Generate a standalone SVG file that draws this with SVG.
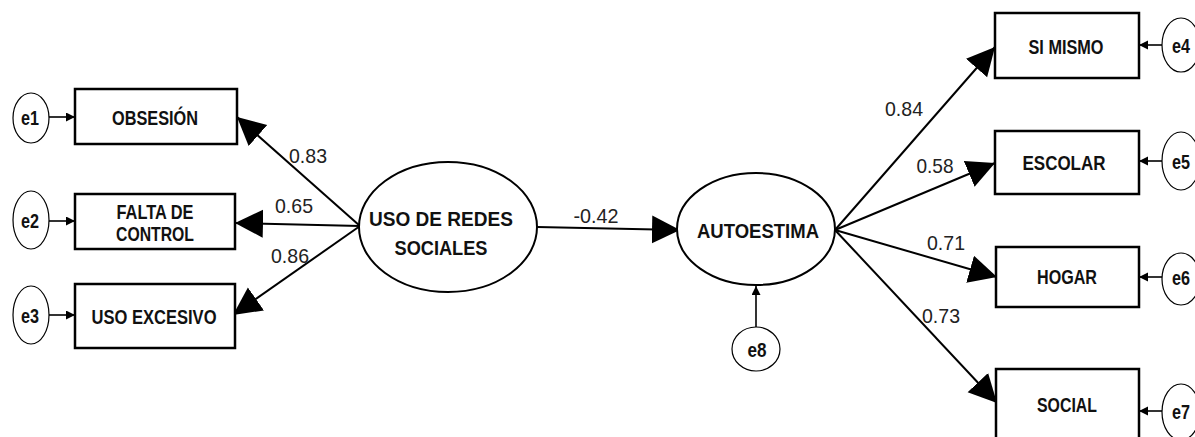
<svg xmlns="http://www.w3.org/2000/svg" width="1195" height="437" viewBox="0 0 1195 437">
<defs>
<style>
.box{fill:#fff;stroke:#000;stroke-width:2.5}
.lat{fill:#fff;stroke:#000;stroke-width:2}
.err{fill:#fff;stroke:#000;stroke-width:1.2}
.lbl{font-family:"Liberation Sans",Arial,sans-serif;font-weight:bold;font-size:21px;text-anchor:middle;fill:#111}
.num{font-family:"Liberation Sans",Arial,sans-serif;font-size:21px;text-anchor:middle;fill:#222}
.path{stroke:#000;stroke-width:2;fill:none;marker-end:url(#big)}
.epath{stroke:#000;stroke-width:1.6;fill:none;marker-end:url(#small)}
</style>
<marker id="big" markerUnits="userSpaceOnUse" markerWidth="30" markerHeight="30" refX="28" refY="14" orient="auto">
<path d="M0,0 L28,14 L0,28 z" fill="#000"/>
</marker>
<marker id="small" markerUnits="userSpaceOnUse" markerWidth="10" markerHeight="10" refX="9" refY="4.5" orient="auto">
<path d="M0,0 L9,4.5 L0,9 z" fill="#000"/>
</marker>
</defs>
<rect width="1195" height="437" fill="#fff"/>

<g id="connectors">
<line class="path" x1="360" y1="226" x2="237" y2="117"/>
<line class="path" x1="360" y1="226" x2="235" y2="223"/>
<line class="path" x1="360" y1="226" x2="233" y2="315"/>
<line class="path" x1="537" y1="227" x2="680" y2="230"/>
<line class="path" x1="835" y1="230" x2="995" y2="47"/>
<line class="path" x1="835" y1="230" x2="995" y2="163"/>
<line class="path" x1="835" y1="230" x2="997" y2="277"/>
<line class="path" x1="835" y1="230" x2="997" y2="403"/>
<line class="epath" x1="49" y1="117" x2="75" y2="117"/>
<line class="epath" x1="49" y1="221" x2="75" y2="221"/>
<line class="epath" x1="49" y1="315" x2="75" y2="315"/>
<line class="epath" x1="1162" y1="45" x2="1139" y2="45"/>
<line class="epath" x1="1162" y1="161" x2="1139" y2="161"/>
<line class="epath" x1="1162" y1="277" x2="1139" y2="277"/>
<line class="epath" x1="1162" y1="411" x2="1139" y2="411"/>
<line class="epath" x1="756" y1="327" x2="756" y2="286"/>
<text class="num" x="308" y="163" textLength="38" lengthAdjust="spacingAndGlyphs">0.83</text>
<text class="num" x="294" y="213" textLength="38" lengthAdjust="spacingAndGlyphs">0.65</text>
<text class="num" x="290" y="263" textLength="38" lengthAdjust="spacingAndGlyphs">0.86</text>
<text class="num" x="596" y="223" textLength="45" lengthAdjust="spacingAndGlyphs">-0.42</text>
<text class="num" x="904" y="116" textLength="38" lengthAdjust="spacingAndGlyphs">0.84</text>
<text class="num" x="935" y="173" textLength="37" lengthAdjust="spacingAndGlyphs">0.58</text>
<text class="num" x="946" y="250" textLength="38" lengthAdjust="spacingAndGlyphs">0.71</text>
<text class="num" x="941" y="323" textLength="38" lengthAdjust="spacingAndGlyphs">0.73</text>
</g>

<g id="usoredes">
<ellipse class="lat" cx="448" cy="227" rx="89" ry="65"/>
<text class="lbl" x="441" y="226" textLength="144" lengthAdjust="spacingAndGlyphs">USO DE REDES</text>
<text class="lbl" x="441" y="255" textLength="93" lengthAdjust="spacingAndGlyphs">SOCIALES</text>
</g>
<g id="autoestima">
<ellipse class="lat" cx="756" cy="229" rx="79" ry="56"/>
<text class="lbl" x="758" y="238" textLength="122" lengthAdjust="spacingAndGlyphs">AUTOESTIMA</text>
</g>

<g id="obsesion">
<rect class="box" x="75" y="89" width="162" height="55"/>
<text class="lbl" x="155" y="125" textLength="86" lengthAdjust="spacingAndGlyphs">OBSESIÓN</text>
</g>
<g id="faltacontrol">
<rect class="box" x="75" y="194" width="160" height="55"/>
<text class="lbl" x="155" y="219" textLength="77" lengthAdjust="spacingAndGlyphs">FALTA DE</text>
<text class="lbl" x="155" y="241" textLength="78" lengthAdjust="spacingAndGlyphs">CONTROL</text>
</g>
<g id="usoexcesivo">
<rect class="box" x="75" y="284" width="160" height="64"/>
<text class="lbl" x="154" y="324" textLength="125" lengthAdjust="spacingAndGlyphs">USO EXCESIVO</text>
</g>

<g id="simismo">
<rect class="box" x="995" y="13" width="144" height="65"/>
<text class="lbl" x="1066" y="54" textLength="75" lengthAdjust="spacingAndGlyphs">SI MISMO</text>
</g>
<g id="escolar">
<rect class="box" x="995" y="131" width="144" height="63"/>
<text class="lbl" x="1064" y="170" textLength="83" lengthAdjust="spacingAndGlyphs">ESCOLAR</text>
</g>
<g id="hogar">
<rect class="box" x="996" y="247" width="143" height="60"/>
<text class="lbl" x="1067" y="284" textLength="60" lengthAdjust="spacingAndGlyphs">HOGAR</text>
</g>
<g id="social">
<rect class="box" x="996" y="369" width="143" height="80"/>
<text class="lbl" x="1067" y="412" textLength="60" lengthAdjust="spacingAndGlyphs">SOCIAL</text>
</g>

<g id="e1"><ellipse class="err" cx="31" cy="118" rx="18" ry="25"/><text class="lbl" x="30" y="125" textLength="18" lengthAdjust="spacingAndGlyphs">e1</text></g>
<g id="e2"><ellipse class="err" cx="31" cy="220" rx="18" ry="29"/><text class="lbl" x="30" y="228" textLength="18" lengthAdjust="spacingAndGlyphs">e2</text></g>
<g id="e3"><ellipse class="err" cx="31" cy="315" rx="18" ry="29"/><text class="lbl" x="30" y="323" textLength="18" lengthAdjust="spacingAndGlyphs">e3</text></g>
<g id="e4"><ellipse class="err" cx="1181" cy="45" rx="19" ry="27"/><text class="lbl" x="1181" y="53" textLength="18" lengthAdjust="spacingAndGlyphs">e4</text></g>
<g id="e5"><ellipse class="err" cx="1181" cy="161" rx="19" ry="29"/><text class="lbl" x="1181" y="169" textLength="18" lengthAdjust="spacingAndGlyphs">e5</text></g>
<g id="e6"><ellipse class="err" cx="1181" cy="279" rx="19" ry="26"/><text class="lbl" x="1181" y="285" textLength="18" lengthAdjust="spacingAndGlyphs">e6</text></g>
<g id="e7"><ellipse class="err" cx="1181" cy="412" rx="19" ry="28"/><text class="lbl" x="1181" y="419" textLength="18" lengthAdjust="spacingAndGlyphs">e7</text></g>
<g id="e8"><ellipse class="err" cx="756" cy="349" rx="24" ry="22"/><text class="lbl" x="757" y="357" textLength="19" lengthAdjust="spacingAndGlyphs">e8</text></g>
</svg>
